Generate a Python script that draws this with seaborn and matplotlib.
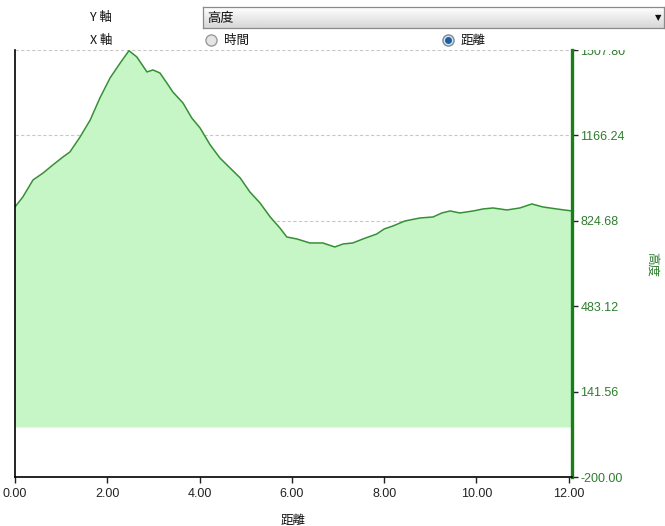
import numpy as np
import pandas as pd
import matplotlib
matplotlib.use("Agg")
import matplotlib.pyplot as plt
from matplotlib.lines import Line2D
from matplotlib.patches import Rectangle
import seaborn as sns

# distance (km) and elevation (m)
distance = [0.00, 0.17, 0.39, 0.61, 0.82, 1.04, 1.19, 1.41, 1.63, 1.84, 2.06,
            2.28, 2.47, 2.64, 2.86, 2.99, 3.14, 3.29, 3.42, 3.64, 3.83, 4.01,
            4.23, 4.44, 4.66, 4.88, 5.09, 5.31, 5.53, 5.74, 5.89, 6.11, 6.39,
            6.67, 6.93, 7.11, 7.32, 7.54, 7.84, 8.00, 8.19, 8.45, 8.78, 9.06,
            9.25, 9.43, 9.64, 9.93, 10.14, 10.36, 10.66, 10.94, 11.20, 11.44,
            11.74, 12.07]
elevation = [880, 920, 988, 1016, 1048, 1080, 1100, 1160, 1228, 1316, 1396,
             1456, 1505, 1480, 1420, 1428, 1416, 1376, 1340, 1296, 1236, 1196,
             1128, 1076, 1036, 996, 940, 896, 840, 796, 760, 752, 736,
             736, 720, 732, 736, 752, 772, 792, 804, 824, 836, 840,
             856, 864, 856, 864, 872, 876, 868, 876, 892, 880,
             872, 864]

y_ticks = [-200.00, 141.56, 483.12, 824.68, 1166.24, 1507.80]
x_ticks = [0, 2, 4, 6, 8, 10, 12]

df = pd.DataFrame({"distance": distance, "elevation": elevation})

sns.set_theme(style="white")
plt.rcParams['font.family'] = ['Liberation Sans', 'Noto Sans CJK TC', 'DejaVu Sans']
cjk = ['Noto Sans CJK TC', 'DejaVu Sans']

fig = plt.figure(figsize=(6.65, 5.26), dpi=100)
ax = fig.add_axes([15 / 665, 1 - 477 / 526, (572 - 15) / 665, (477 - 50) / 526])

ax.fill_between(df["distance"], 0, df["elevation"], color="#c6f5c6", linewidth=0, zorder=1)
sns.lineplot(data=df, x="distance", y="elevation", ax=ax, color="#358f35",
             linewidth=1.1, zorder=2)

ax.set_xlim(0, 12.07)
ax.set_ylim(-200, 1507.80)
ax.set_xticks(x_ticks)
ax.set_xticklabels([f"{v:.2f}" for v in x_ticks], color="#222222", fontsize=9)
ax.set_yticks(y_ticks)
ax.set_yticklabels([f"{v:.2f}" for v in y_ticks], color="#2e7d2e", fontsize=9)
ax.yaxis.tick_right()
ax.tick_params(axis="y", right=True, left=False, length=4, width=1, color="#222222", pad=2)
ax.tick_params(axis="x", bottom=True, length=4, width=1, color="#222222", pad=4)

for y in y_ticks[1:]:
    ax.axhline(y, color="#c8c8c8", linestyle=(0, (3, 2)), linewidth=0.8, zorder=0)

ax.spines["top"].set_visible(False)
ax.spines["left"].set_color("black")
ax.spines["left"].set_linewidth(1.2)
ax.spines["bottom"].set_color("black")
ax.spines["bottom"].set_linewidth(1.2)
ax.spines["right"].set_color("#1a7f1a")
ax.spines["right"].set_linewidth(2.4)

ax.set_xlabel("距離", family=cjk, fontsize=9, color="#111111", labelpad=10)
ax.set_ylabel("")
fig.text(652 / 665, 1 - 265 / 526, "高度", family=cjk, fontsize=9, color="#2e7d2e",
         rotation=270, ha="center", va="center")

# white panel for the controls above the chart (clips the top tick label)
fig.add_artist(Rectangle((0, 1 - 47 / 526), 1, 47 / 526, transform=fig.transFigure,
                         facecolor="white", edgecolor="none", zorder=5))
fig.add_artist(Rectangle((576 / 665, 1 - 50 / 526), 1, 50 / 526, transform=fig.transFigure,
                         facecolor="white", edgecolor="none", zorder=5))

fig.text(90 / 665, 1 - 17 / 526, "Y 軸", family=cjk, fontsize=9, color="#111111",
         ha="left", va="center", zorder=6)
fig.text(90 / 665, 1 - 40 / 526, "X 軸", family=cjk, fontsize=9, color="#111111",
         ha="left", va="center", zorder=6)

# combobox with a light gradient
cb = fig.add_axes([203 / 665, 1 - 28 / 526, (664 - 203) / 665, 21 / 526], zorder=7)
grad = np.linspace(1.0, 0.84, 50).reshape(-1, 1)
cb.imshow(grad, aspect="auto", cmap="gray", vmin=0, vmax=1, extent=[0, 1, 0, 1])
cb.set_xlim(0, 1)
cb.set_ylim(0, 1)
cb.set_xticks([])
cb.set_yticks([])
for s in cb.spines.values():
    s.set_color("#8a8a8a")
    s.set_linewidth(0.9)
cb.text(0.01, 0.45, "高度", family=cjk, fontsize=9.5, color="#111111", va="center")
cb.text(0.995, 0.5, "▼", family=['DejaVu Sans'], fontsize=6, color="#111111",
        ha="right", va="center")

# radio buttons
fig.add_artist(Line2D([211 / 665], [1 - 40 / 526], marker="o", markersize=8,
                      markerfacecolor="#e4e4e4", markeredgecolor="#9a9a9a",
                      transform=fig.transFigure, zorder=6))
fig.text(224 / 665, 1 - 40 / 526, "時間", family=cjk, fontsize=9, color="#111111",
         ha="left", va="center", zorder=6)
fig.add_artist(Line2D([448 / 665], [1 - 40 / 526], marker="o", markersize=8,
                      markerfacecolor="#d8e4ee", markeredgecolor="#7a8a9a",
                      transform=fig.transFigure, zorder=6))
fig.add_artist(Line2D([448 / 665], [1 - 40 / 526], marker="o", markersize=4,
                      markerfacecolor="#1f5f9f", markeredgecolor="#1f5f9f",
                      transform=fig.transFigure, zorder=7))
fig.text(461 / 665, 1 - 40 / 526, "距離", family=cjk, fontsize=9, color="#111111",
         ha="left", va="center", zorder=6)

fig.savefig("out.png", dpi=100)
